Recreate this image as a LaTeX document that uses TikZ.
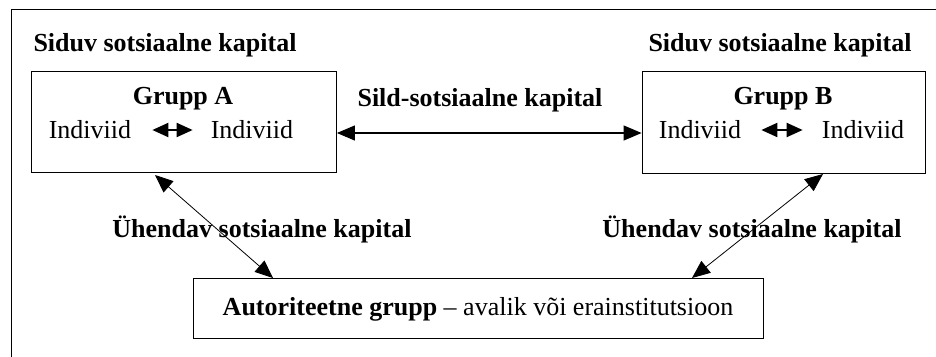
\documentclass[tikz,border=0pt]{standalone}
\usepackage{fontspec}
\setmainfont{Liberation Serif}
\usetikzlibrary{arrows.meta}
\tikzset{
  grpbox/.style={draw, thick, inner sep=0pt},
  lbl/.style={font=\fontsize{26}{30}\selectfont\bfseries, inner sep=0pt},
  ind/.style={inner sep=0pt},
  link/.style={{Triangle[length=18pt,width=15pt]}-{Triangle[length=18pt,width=15pt]}, line width=1.1pt},
  innerlink/.style={{Triangle[length=16pt,width=14pt]}-{Triangle[length=16pt,width=14pt]}, line width=2pt}
}
\begin{document}
\begin{tikzpicture}[x=1pt,y=-1pt,font=\fontsize{26}{30}\selectfont]
					\useasboundingbox (0,0) rectangle (936,356);
					\draw[thick] (11,362) -- (11,9) -- (940,9);
					
					\node[lbl] (sidA) at (165,45) {Siduv sotsiaalne kapital};
					\node[lbl] (sidB) at (780,45) {Siduv sotsiaalne kapital};
					
					\node[grpbox, minimum width=305pt, minimum height=101pt] (grA) at (184,122) {};
					\node[grpbox, minimum width=283pt, minimum height=102pt] (grB) at (783.5,122) {};
					\node[grpbox, minimum width=570pt, minimum height=60pt] (aut) at (478,308) {};
					
					\node[lbl] (tA) at (183,99) {Grupp A};
					\node[lbl] (tB) at (783,99) {Grupp B};
					\node[ind] (iA1) at (90,130) {Indiviid};
					\node[ind] (iA2) at (252,130) {Indiviid};
					\node[ind] (iB1) at (700,130) {Indiviid};
					\node[ind] (iB2) at (863,130) {Indiviid};
					\draw[innerlink, shorten <=21pt, shorten >=18pt] (iA1) -- (iA2);
					\draw[innerlink, shorten <=20pt, shorten >=19pt] (iB1) -- (iB2);
					
					\node[lbl] (sild) at (480,100) {Sild-sotsiaalne kapital};
					\draw[link] (grA.east |- 0,133) -- (grB.west |- 0,133);
					
					\coordinate (dA) at (155,175);
					\coordinate (dB) at (823,174);
					\coordinate (uA) at (273,278);
					\coordinate (uB) at (692,278);
					\draw[link, line width=0.8pt] (dA) -- (uA);
					\draw[link, line width=0.8pt] (dB) -- (uB);
					
					\node[lbl] (uhA) at (262,229) {Ühendav sotsiaalne kapital};
					\node[lbl] (uhB) at (752,229) {Ühendav sotsiaalne kapital};
					
					\node[ind] (autT) at (478,309) {\textbf{Autoriteetne grupp} -- avalik või erainstitutsioon};
				\end{tikzpicture}
\end{document}
